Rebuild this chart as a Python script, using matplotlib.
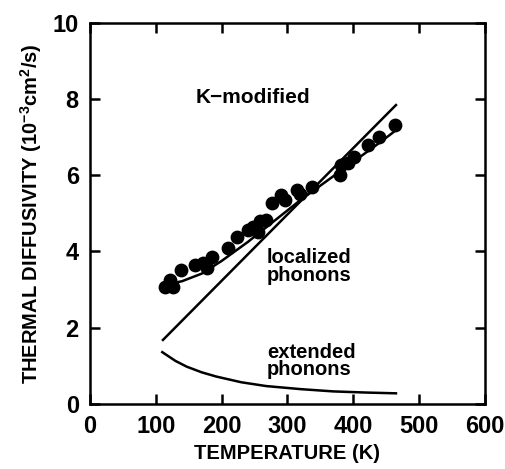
import numpy as np
import matplotlib
matplotlib.use("Agg")
import matplotlib.pyplot as plt

plt.rcParams['font.family'] = ['Liberation Sans', 'DejaVu Sans']
plt.rcParams['font.weight'] = 'bold'
plt.rcParams['mathtext.fontset'] = 'custom'
plt.rcParams['mathtext.rm'] = 'Liberation Sans:bold'
plt.rcParams['mathtext.default'] = 'rm'

# --- measured points ---
temp_data = [114, 121, 127, 139, 159, 172, 178, 185, 210, 223, 240, 248, 256, 258,
             268, 276, 291, 296, 314, 319, 337, 380, 382, 392, 402, 423, 440, 463]
diff_data = [3.08, 3.25, 3.08, 3.51, 3.65, 3.69, 3.56, 3.86, 4.08, 4.39, 4.56, 4.65,
             4.52, 4.79, 4.83, 5.26, 5.48, 5.35, 5.61, 5.52, 5.70, 6.00, 6.27, 6.31,
             6.49, 6.79, 7.01, 7.32]

# --- model curves ---
temp_kmod = [120, 140, 170, 200, 240, 280, 320, 360, 400, 440, 465]
diff_kmod = [3.15, 3.22, 3.42, 3.75, 4.25, 4.80, 5.35, 5.85, 6.35, 6.85, 7.18]

temp_loc = [111, 465]
diff_loc = [1.68, 7.84]

temp_ext = [110, 130, 147, 170, 192, 230, 268, 320, 370, 420, 465]
diff_ext = [1.36, 1.13, 0.98, 0.83, 0.72, 0.57, 0.47, 0.39, 0.33, 0.30, 0.28]

fig = plt.figure(figsize=(5.05, 4.69), dpi=100)
ax = fig.add_axes([0.178, 0.1386, 0.782, 0.813])

ax.plot(temp_kmod, diff_kmod, color='black', lw=1.8)
ax.plot(temp_loc, diff_loc, color='black', lw=1.8)
ax.plot(temp_ext, diff_ext, color='black', lw=1.8)
ax.scatter(temp_data, diff_data, s=80, color='black', zorder=3)

ax.text(160, 8.05, "K\u2212modified", fontsize=15, fontweight='bold', va='center')
ax.text(269, 3.6, "localized\nphonons", fontsize=14.5, fontweight='bold', va='center',
        linespacing=0.9)
ax.text(269, 1.13, "extended\nphonons", fontsize=14.5, fontweight='bold', va='center',
        linespacing=0.9)

ax.set_xlim(0, 600)
ax.set_ylim(0, 10)
ax.set_xticks(range(0, 601, 100))
ax.set_yticks(range(0, 11, 2))
ax.tick_params(direction='in', length=7, width=1.8, top=True, right=True,
               labelsize=17, pad=8)
for sp in ax.spines.values():
    sp.set_linewidth(1.8)

ax.set_xlabel("TEMPERATURE (K)", fontsize=14.5, fontweight='bold', labelpad=4)
ax.set_ylabel("THERMAL DIFFUSIVITY (10$^{-3}$cm$^{2}$/s)", fontsize=14.5,
              fontweight='bold', labelpad=6)

fig.savefig("out.png", dpi=100)
